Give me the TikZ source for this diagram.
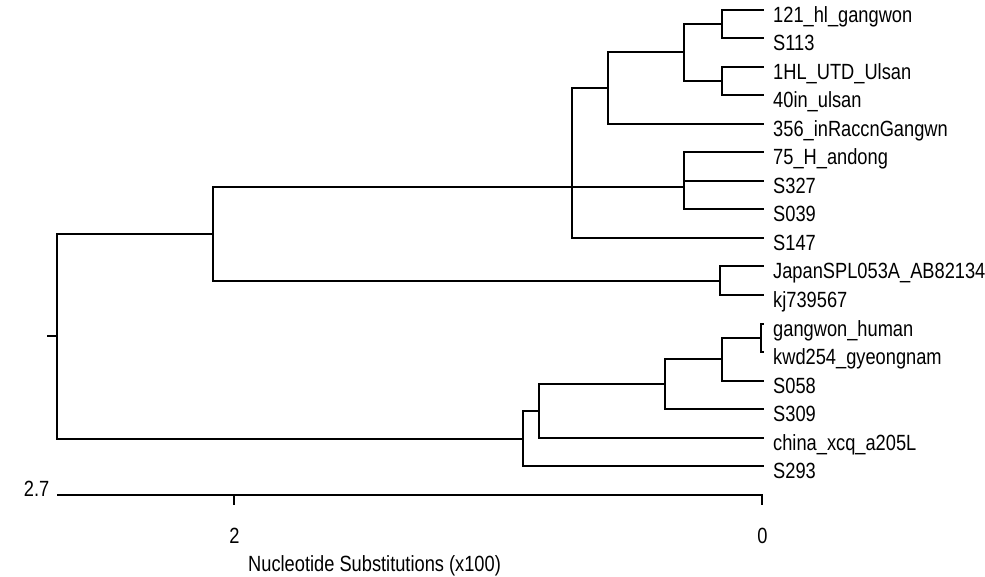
\documentclass[tikz,border=0pt]{standalone}
\usepackage{fontspec}
\setmainfont{Liberation Sans}[FakeStretch=0.83]
\begin{document}
\begin{tikzpicture}[x=1pt,y=-1pt,
  branch/.style={line width=2pt,line cap=rect,line join=miter},
  leaflabel/.style={anchor=base west,inner sep=0pt,font=\fontsize{22}{26}\selectfont},
  scaletext/.style={inner sep=0pt,font=\fontsize{22}{26}\selectfont}]
\useasboundingbox (0,0) rectangle (985,577);
% leaf tips and labels
\def\tipx{763}
\def\labx{773}
\foreach \n/\t [count=\i] in {
  l1/121\_hl\_gangwon, l2/S113, l3/1HL\_UTD\_Ulsan, l4/40in\_ulsan,
  l5/356\_inRaccnGangwn, l6/75\_H\_andong, l7/S327, l8/S039, l9/S147,
  l10/JapanSPL053A\_AB82134, l11/kj739567, l12/gangwon\_human,
  l13/kwd254\_gyeongnam, l14/S058, l15/S309, l16/china\_xcq\_a205L, l17/S293}{
  \pgfmathsetmacro\yy{round(9.5+(\i-1)*28.55)}
  \coordinate (\n) at (\tipx,\yy);
  \node[leaflabel] (\n lab) at (\labx,\yy+12.3) {\t};
}
% internal nodes
\coordinate (A) at (722,24);
\coordinate (B) at (722,81);
\coordinate (C) at (684,52);
\coordinate (D) at (608,88);
\coordinate (E) at (684,187);
\coordinate (F) at (572,187);
\coordinate (H) at (720,281);
\coordinate (G) at (213,234);
\coordinate (M) at (761,338);
\coordinate (I) at (722,359);
\coordinate (J) at (665,384);
\coordinate (K) at (539,411);
\coordinate (L) at (523,439);
\coordinate (R) at (57,336);
\coordinate (Rstub) at (47,336);
% branches
\foreach \p/\c in {A/l1,A/l2,B/l3,B/l4,C/A,C/B,D/C,D/l5,E/l6,E/l7,E/l8,
  F/D,F/E,F/l9,H/l10,H/l11,G/F,G/H,M/l12,M/l13,I/M,I/l14,J/I,J/l15,
  K/J,K/l16,L/K,L/l17,R/G,R/L}{
  \draw[branch] (\p) |- (\c);
}
\draw[branch,line cap=butt] (Rstub) -- (R);
% scale bar
\coordinate (s0) at (57,495);
\coordinate (s1) at (762,495);
\coordinate (t2) at (234,495);
\coordinate (t2b) at (234,505);
\coordinate (t0b) at (762,505);
\draw[branch,line cap=butt] (s0) -- (s1) -- (t0b);
\draw[branch,line cap=butt] (t2) -- (t2b);
\node[scaletext,anchor=base east] (lab27) at (49.5,496) {2.7};
\node[scaletext,anchor=base] (lab2) at (234.5,543.3) {2};
\node[scaletext,anchor=base] (lab0) at (762.5,543.3) {0};
\node[scaletext,anchor=base west] (axis) at (248,571) {Nucleotide Substitutions (x100)};
\end{tikzpicture}
\end{document}
